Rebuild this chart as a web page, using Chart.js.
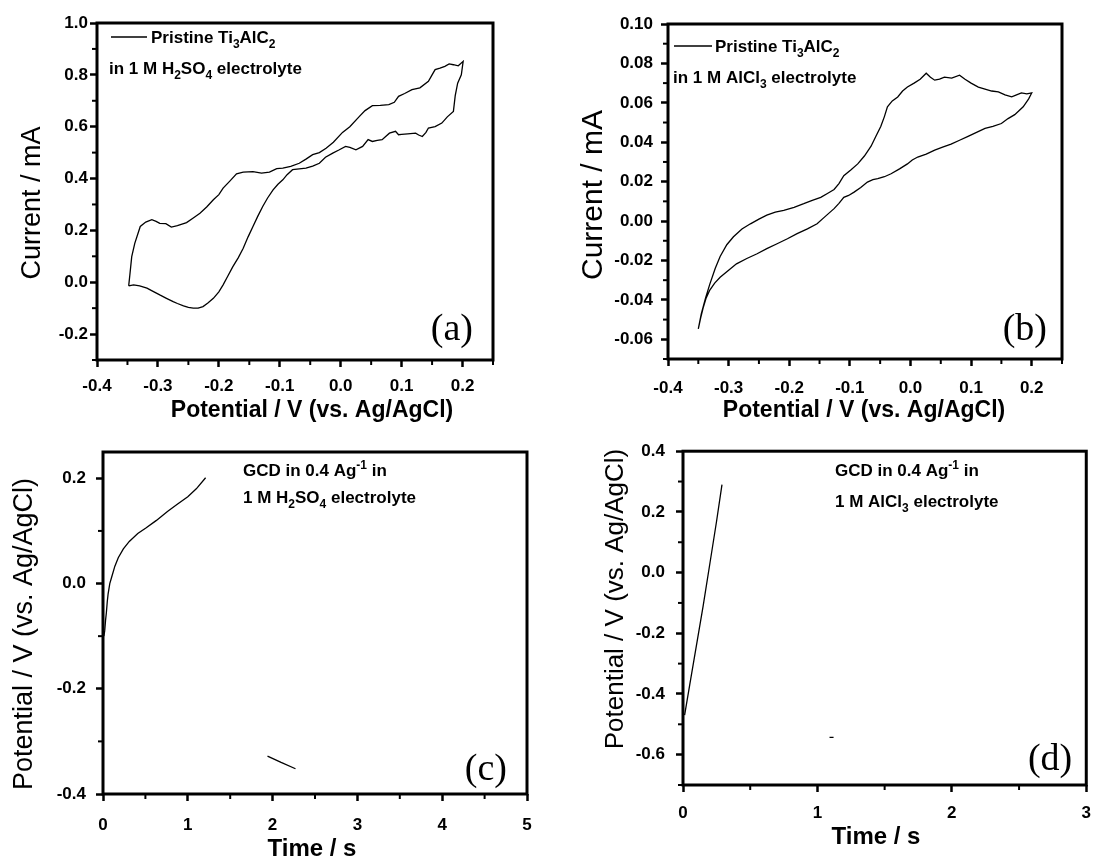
<!DOCTYPE html>
<html>
<head>
<meta charset="UTF-8"/>
<script src="https://cdn.jsdelivr.net/npm/chart.js@4.4.1/dist/chart.umd.min.js"></script>
<style>
body{margin:0;background:#fff;width:1102px;height:861px;position:relative;overflow:hidden}
.panel{position:absolute}
</style>
</head>
<body>
<div class="panel" style="left:0;top:0"><canvas id="ca" width="550" height="430"></canvas></div>
<div class="panel" style="left:550px;top:0"><canvas id="cb" width="552" height="430"></canvas></div>
<div class="panel" style="left:0;top:430px"><canvas id="cc" width="550" height="431"></canvas></div>
<div class="panel" style="left:550px;top:430px"><canvas id="cd" width="552" height="431"></canvas></div>
<script>
// (a) CV, Ti3AlC2 in H2SO4: potential (V) / current (mA), one closed loop
const aPotential = [-0.348,-0.346,-0.343,-0.338,-0.329,-0.32,-0.31,-0.303,-0.297,-0.287,-0.278,-0.268,-0.253,-0.242,-0.231,-0.22,-0.209,-0.2,-0.193,-0.182,-0.171,-0.16,-0.144,-0.13,-0.117,-0.105,-0.095,-0.082,-0.068,-0.057,-0.046,-0.035,-0.024,-0.012,0.003,0.015,0.03,0.04,0.052,0.065,0.079,0.088,0.095,0.105,0.117,0.13,0.144,0.15,0.155,0.163,0.171,0.178,0.185,0.193,0.201,
  0.198,0.192,0.188,0.185,0.175,0.166,0.155,0.144,0.14,0.134,0.128,0.123,0.11,0.1,0.095,0.09,0.08,0.068,0.06,0.052,0.045,0.036,0.025,0.015,0.008,-0.003,-0.013,-0.025,-0.035,-0.046,-0.057,-0.068,-0.079,-0.088,-0.095,-0.103,-0.111,-0.12,-0.128,-0.136,-0.144,-0.152,-0.16,-0.168,-0.177,-0.185,-0.193,-0.2,-0.209,-0.218,-0.226,-0.234,-0.242,-0.25,-0.258,-0.268,-0.275,-0.286,-0.297,-0.308,-0.318,-0.33,-0.34,-0.348];
const aCurrent = [-0.014,0.03,0.099,0.15,0.215,0.232,0.241,0.235,0.227,0.226,0.213,0.218,0.23,0.248,0.266,0.29,0.318,0.338,0.363,0.39,0.418,0.425,0.427,0.421,0.425,0.438,0.44,0.447,0.459,0.475,0.492,0.5,0.517,0.54,0.578,0.6,0.638,0.662,0.681,0.682,0.685,0.694,0.717,0.728,0.743,0.75,0.775,0.8,0.82,0.826,0.833,0.842,0.839,0.835,0.852,
  0.8,0.768,0.72,0.659,0.638,0.614,0.6,0.595,0.578,0.562,0.568,0.575,0.572,0.57,0.569,0.582,0.575,0.55,0.547,0.543,0.55,0.524,0.511,0.52,0.524,0.51,0.498,0.482,0.459,0.448,0.44,0.437,0.434,0.415,0.395,0.378,0.356,0.325,0.292,0.255,0.215,0.175,0.131,0.095,0.06,0.025,-0.01,-0.037,-0.062,-0.08,-0.094,-0.1,-0.1,-0.097,-0.091,-0.082,-0.075,-0.062,-0.049,-0.035,-0.023,-0.014,-0.01,-0.014];

// (b) CV, Ti3AlC2 in AlCl3
const bPotential = [-0.35,-0.347,-0.345,-0.338,-0.331,-0.322,-0.314,-0.303,-0.292,-0.278,-0.264,-0.25,-0.237,-0.223,-0.209,-0.192,-0.176,-0.162,-0.148,-0.137,-0.126,-0.118,-0.11,-0.098,-0.087,-0.076,-0.065,-0.057,-0.049,-0.043,-0.038,-0.03,-0.021,-0.013,-0.005,0.006,0.016,0.026,0.033,0.04,0.048,0.056,0.068,0.081,0.09,0.1,0.112,0.123,0.134,0.145,0.156,0.167,0.175,0.183,0.192,0.2,
  0.195,0.186,0.179,0.172,0.161,0.15,0.136,0.123,0.109,0.095,0.081,0.067,0.053,0.04,0.026,0.012,0.003,-0.005,-0.018,-0.032,-0.043,-0.054,-0.062,-0.071,-0.082,-0.093,-0.102,-0.11,-0.118,-0.126,-0.14,-0.154,-0.17,-0.187,-0.203,-0.22,-0.237,-0.253,-0.27,-0.287,-0.3,-0.314,-0.323,-0.331,-0.337,-0.342,-0.346,-0.35];
const bCurrent = [-0.0547,-0.05,-0.047,-0.039,-0.032,-0.024,-0.018,-0.012,-0.008,-0.004,-0.0014,0.001,0.003,0.0045,0.0054,0.007,0.0088,0.0105,0.012,0.014,0.016,0.019,0.023,0.026,0.029,0.033,0.038,0.043,0.048,0.053,0.058,0.061,0.063,0.066,0.068,0.07,0.072,0.075,0.073,0.0715,0.072,0.073,0.0725,0.074,0.072,0.07,0.068,0.067,0.066,0.0656,0.064,0.063,0.064,0.065,0.0645,0.065,
  0.062,0.058,0.056,0.054,0.052,0.0495,0.048,0.047,0.045,0.043,0.041,0.039,0.0375,0.036,0.034,0.0325,0.031,0.029,0.0265,0.024,0.0225,0.0215,0.021,0.0198,0.017,0.0147,0.013,0.012,0.009,0.0063,0.0025,-0.0014,-0.004,-0.0064,-0.009,-0.0115,-0.014,-0.0166,-0.019,-0.0217,-0.025,-0.0285,-0.0315,-0.035,-0.039,-0.044,-0.049,-0.0547];

// (c) GCD in H2SO4: time (s) / potential (V)
const cChargeTime = [0.01,0.02,0.03,0.04,0.05,0.06,0.08,0.1,0.14,0.18,0.24,0.31,0.41,0.51,0.63,0.76,0.88,1.0,1.1,1.21];
const cChargeV = [-0.1,-0.09,-0.07,-0.055,-0.035,-0.02,0,0.011,0.033,0.049,0.066,0.08,0.095,0.106,0.12,0.137,0.151,0.165,0.18,0.201];
const cDischargeTime = [1.94,2.1,2.27];
const cDischargeV = [-0.328,-0.34,-0.352];

// (d) GCD in AlCl3
const dChargeTime = [0.012,0.05,0.1,0.15,0.2,0.25,0.29];
const dChargeV = [-0.47,-0.37,-0.24,-0.11,0.03,0.17,0.29];
const dDischargeTime = [1.09,1.12];
const dDischargeV = [-0.543,-0.543];

// tick labels
const cvXTicks = [-0.4,-0.3,-0.2,-0.1,0.0,0.1,0.2];
const aYTicks = [-0.2,0.0,0.2,0.4,0.6,0.8,1.0];
const bYTicks = [-0.06,-0.04,-0.02,0.00,0.02,0.04,0.06,0.08,0.10];
const cXTicks = [0,1,2,3,4,5];
const cYTicks = [-0.4,-0.2,0.0,0.2];
const dXTicks = [0,1,2,3];
const dYTicks = [-0.6,-0.4,-0.2,0.0,0.2,0.4];

const SANS = '"Liberation Sans", Arial, Helvetica, sans-serif';
const SERIF = '"Liberation Serif", "Times New Roman", serif';
const POT = 'Potential / V (vs. Ag/AgCl)';

// axis titles, canvas coords of the text centre
const TITLES = {
  ca: {x: [POT, 312, 411, 23], y: ['Current / mA', 33, 203, 27]},
  cb: {x: [POT, 314, 411, 23], y: ['Current / mA', 44, 195, 30]},
  cc: {x: ['Time / s', 312, 419, 24], y: [POT, 25, 204, 27]},
  cd: {x: ['Time / s', 326, 407, 24], y: [POT, 66, 169, 26]}
};

// text boxes; offsets are from the chart area's left/top
const NOTES = {
  ca: {
    legendLine: [14, 50, 14],
    lines: [
      {x: 54, y: 20, parts: [['Pristine Ti'], ['3', 'sub'], ['AlC'], ['2', 'sub']]},
      {x: 12, y: 51, parts: [['in 1 M H'], ['2', 'sub'], ['SO'], ['4', 'sub'], [' electrolyte']]}
    ],
    tag: '(a)', tagDx: 20, tagDy: 20
  },
  cb: {
    legendLine: [6, 44, 22],
    lines: [
      {x: 47, y: 28, parts: [['Pristine Ti'], ['3', 'sub'], ['AlC'], ['2', 'sub']]},
      {x: 5, y: 59, parts: [['in 1 M AlCl'], ['3', 'sub'], [' electrolyte']]}
    ],
    tag: '(b)', tagDx: 15, tagDy: 19
  },
  cc: {
    lines: [
      {x: 140, y: 24, parts: [['GCD in 0.4 Ag'], ['-1', 'sup'], [' in']]},
      {x: 140, y: 51, parts: [['1 M H'], ['2', 'sub'], ['SO'], ['4', 'sub'], [' electrolyte']]}
    ],
    tag: '(c)', tagDx: 20, tagDy: 14
  },
  cd: {
    lines: [
      {x: 152, y: 25, parts: [['GCD in 0.4 Ag'], ['-1', 'sup'], [' in']]},
      {x: 152, y: 56, parts: [['1 M AlCl'], ['3', 'sub'], [' electrolyte']]}
    ],
    tag: '(d)', tagDx: 14, tagDy: 15
  }
};

function pts(xs, ys) { return xs.map((x, i) => ({x: x, y: ys[i]})); }

function drawRich(ctx, x, y, parts, size) {
  parts.forEach(p => {
    let fs = size, dy = 0;
    if (p[1] === 'sub') { fs = Math.round(size * 0.7); dy = Math.round(size * 0.3); }
    if (p[1] === 'sup') { fs = Math.round(size * 0.7); dy = -Math.round(size * 0.42); }
    ctx.font = 'bold ' + fs + 'px ' + SANS;
    ctx.fillText(p[0], x, y + dy);
    x += ctx.measureText(p[0]).width;
  });
}

const framePlugin = {
  id: 'frame',
  afterDraw(chart) {
    const a = chart.chartArea, ctx = chart.ctx;
    ctx.save();
    ctx.strokeStyle = '#000';
    ctx.lineWidth = 3;
    ctx.strokeRect(a.left, a.top, a.right - a.left, a.bottom - a.top);
    ctx.restore();
  }
};

const minorPlugin = {
  id: 'minor',
  afterDraw(chart, args, opts) {
    const ctx = chart.ctx, a = chart.chartArea;
    ctx.save();
    ctx.strokeStyle = '#000';
    ctx.lineWidth = 2;
    ['x', 'y'].forEach(k => {
      const sc = chart.scales[k], step = opts[k];
      if (!step) return;
      const n = Math.round((sc.max - sc.min) / step);
      for (let i = 0; i <= n; i++) {
        const v = sc.min + i * step;
        if (sc.ticks.some(t => Math.abs(t.value - v) < step / 10)) continue;
        const p = sc.getPixelForValue(v);
        ctx.beginPath();
        if (k === 'x') { ctx.moveTo(p, a.bottom); ctx.lineTo(p, a.bottom + 5); }
        else { ctx.moveTo(a.left, p); ctx.lineTo(a.left - 5, p); }
        ctx.stroke();
      }
    });
    ctx.restore();
  }
};

const notesPlugin = {
  id: 'notes',
  afterDraw(chart) {
    const ctx = chart.ctx, a = chart.chartArea, id = chart.canvas.id;
    const o = NOTES[id], t = TITLES[id];
    ctx.save();
    ctx.fillStyle = '#000';
    ctx.strokeStyle = '#000';
    ctx.textBaseline = 'middle';
    ctx.textAlign = 'center';
    ctx.font = 'bold ' + t.x[3] + 'px ' + SANS;
    ctx.fillText(t.x[0], t.x[1], t.x[2]);
    ctx.save();
    ctx.translate(t.y[1], t.y[2]);
    ctx.rotate(-Math.PI / 2);
    ctx.font = t.y[3] + 'px ' + SANS;
    ctx.fillText(t.y[0], 0, 0);
    ctx.restore();

    ctx.textBaseline = 'alphabetic';
    ctx.textAlign = 'left';
    if (o.legendLine) {
      const l = o.legendLine;
      ctx.lineWidth = 1.3;
      ctx.beginPath();
      ctx.moveTo(a.left + l[0], a.top + l[2]);
      ctx.lineTo(a.left + l[1], a.top + l[2]);
      ctx.stroke();
    }
    o.lines.forEach(l => drawRich(ctx, a.left + l.x, a.top + l.y, l.parts, 17));
    ctx.font = '38px ' + SERIF;
    ctx.textAlign = 'right';
    ctx.fillText(o.tag, a.right - o.tagDx, a.bottom - o.tagDy);
    ctx.restore();
  }
};

function axis(opts) {
  return {
    type: 'linear',
    min: opts.min,
    max: opts.max,
    afterBuildTicks: s => { s.ticks = opts.ticks.map(v => ({value: v})); },
    afterFit: s => {
      if (opts.width !== undefined) s.width = opts.width;
      if (opts.height !== undefined) s.height = opts.height;
    },
    ticks: {
      callback: v => v.toFixed(opts.digits),
      font: {family: SANS, size: 17, weight: 'bold'},
      color: '#000',
      padding: opts.pad,
      maxRotation: 0,
      autoSkip: false
    },
    grid: {drawOnChartArea: false, drawTicks: true, tickLength: 7, tickWidth: 2.5, tickColor: '#000'},
    border: {display: false},
    title: {display: false}
  };
}

function line(data) {
  return {data: data, showLine: true, pointRadius: 0, borderColor: '#000', borderWidth: 1.3, fill: false, tension: 0};
}

function panel(id, g) {
  return new Chart(document.getElementById(id), {
    type: 'scatter',
    data: {datasets: g.datasets},
    plugins: [framePlugin, minorPlugin, notesPlugin],
    options: {
      responsive: false,
      animation: false,
      layout: {autoPadding: false, padding: {left: 0, top: g.top, right: g.right, bottom: 0}},
      plugins: {legend: {display: false}, tooltip: {enabled: false}, minor: g.minor},
      scales: {x: g.x, y: g.y}
    }
  });
}

panel('ca', {
  top: 23, right: 57,
  datasets: [line(pts(aPotential, aCurrent))],
  x: axis({min: -0.4, max: 0.25, ticks: cvXTicks, digits: 1, pad: 9, height: 70}),
  y: axis({min: -0.3, max: 1.0, ticks: aYTicks, digits: 1, pad: 2, width: 97}),
  minor: {x: 0.05, y: 0.1}
});

panel('cb', {
  top: 24, right: 40,
  datasets: [line(pts(bPotential, bCurrent))],
  x: axis({min: -0.4, max: 0.25, ticks: cvXTicks, digits: 1, pad: 12, height: 71}),
  y: axis({min: -0.07, max: 0.10, ticks: bYTicks, digits: 2, pad: 8, width: 118}),
  minor: {x: 0.05, y: 0.01}
});

panel('cc', {
  top: 22, right: 23,
  datasets: [line(pts(cChargeTime, cChargeV)), line(pts(cDischargeTime, cDischargeV))],
  x: axis({min: 0, max: 5, ticks: cXTicks, digits: 0, pad: 14, height: 67}),
  y: axis({min: -0.4, max: 0.25, ticks: cYTicks, digits: 1, pad: 10, width: 103}),
  minor: {x: 0.5, y: 0.1}
});

panel('cd', {
  top: 20, right: 7,
  datasets: [line(pts(dChargeTime, dChargeV)), line(pts(dDischargeTime, dDischargeV))],
  x: axis({min: 0, max: 3, ticks: dXTicks, digits: 0, pad: 11, height: 76}),
  y: axis({min: -0.7, max: 0.4, ticks: dYTicks, digits: 1, pad: 11, width: 133}),
  minor: {x: 0.5, y: 0.1}
});
</script>
</body>
</html>
